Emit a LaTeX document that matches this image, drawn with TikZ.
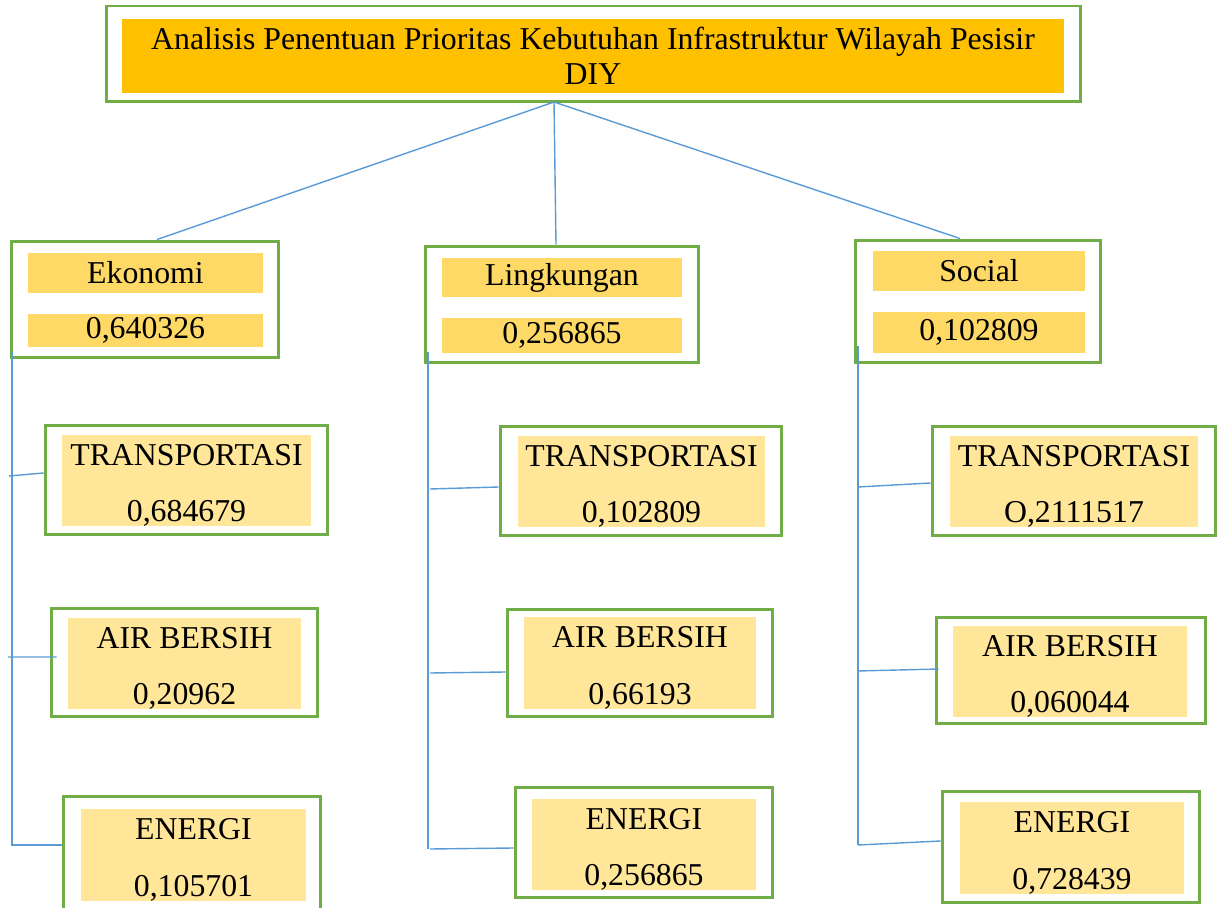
\documentclass[tikz,border=0pt]{standalone}
\usepackage{fontspec}
\setmainfont{Liberation Serif}
\definecolor{boxgreen}{HTML}{70AD47}
\definecolor{headorange}{HTML}{FFC000}
\definecolor{crityellow}{HTML}{FFD966}
\definecolor{subyellow}{HTML}{FFE699}
\definecolor{linkblue}{HTML}{5B9BD5}
% 首行支柱，使两行文字略下移
\newcommand{\topstrut}{\rule{0pt}{17.5pt}}

\begin{document}
\begin{tikzpicture}[x=0.02cm,y=-0.02cm,
  frame/.style={draw=boxgreen, line width=1.7pt, inner sep=0pt},
  headfill/.style={fill=headorange, inner sep=0pt, align=center,
    font=\fontsize{18.1}{19.8}\selectfont},
  critfill/.style={fill=crityellow, inner sep=0pt,
    font=\fontsize{18.1}{20}\selectfont},
  subfill/.style={fill=subyellow, inner sep=0pt, align=center,
    font=\fontsize{18.1}{32}\selectfont},
  link/.style={draw=linkblue, line width=0.8pt}]
  \useasboundingbox (0,0) rectangle (1221,908);

  % 顶层：目标
  \node[frame, minimum width=19.5cm, minimum height=1.92cm] (goal) at (593.5,54) {};
  \node[headfill, minimum width=18.84cm, minimum height=1.5cm] (goalFill) at (593,56)
    {Analisis Penentuan Prioritas Kebutuhan Infrastruktur Wilayah Pesisir\\DIY};

  % 第二层：准则
  \node[frame, minimum width=5.36cm, minimum height=2.34cm] (eko) at (145,299.5) {};
  \node[critfill, minimum width=4.7cm, minimum height=0.8cm] (ekoName) at (145.5,273) {Ekonomi};
  \node[critfill, minimum width=4.7cm, minimum height=0.66cm] (ekoVal) at (145.5,330.5) {0,640326};

  \node[frame, minimum width=5.48cm, minimum height=2.34cm] (ling) at (562,304.5) {};
  \node[critfill, minimum width=4.8cm, minimum height=0.78cm] (lingName) at (562,277.5) {Lingkungan};
  \node[critfill, minimum width=4.8cm, minimum height=0.7cm] (lingVal) at (562,335.5) {0,256865};

  \node[frame, minimum width=4.92cm, minimum height=2.46cm] (soc) at (978,301.5) {};
  \node[critfill, minimum width=4.24cm, minimum height=0.8cm] (socName) at (979,271) {Social};
  \node[critfill, minimum width=4.24cm, minimum height=0.82cm] (socVal) at (979,332.5) {0,102809};

  % 第三层：Ekonomi 下的方案
  \node[frame, minimum width=5.66cm, minimum height=2.2cm] (eT) at (186.5,480) {};
  \node[subfill, minimum width=4.98cm, minimum height=1.78cm] at (186.5,480.5) {\topstrut TRANSPORTASI\\0,684679};
  \node[frame, minimum width=5.34cm, minimum height=2.18cm] (eA) at (184.5,662.5) {};
  \node[subfill, minimum width=4.66cm, minimum height=1.74cm] at (184.5,663.5) {\topstrut AIR BERSIH\\0,20962};
  \node[frame, minimum width=5.16cm, minimum height=2.4cm] (eE) at (192,856) {};
  \node[subfill, minimum width=4.5cm, minimum height=1.84cm] at (193.5,855) {\topstrut ENERGI\\0,105701};

  % 第三层：Lingkungan 下的方案
  \node[frame, minimum width=5.64cm, minimum height=2.2cm] (lT) at (641,481) {};
  \node[subfill, minimum width=4.94cm, minimum height=1.74cm] at (641.5,481.5) {\topstrut TRANSPORTASI\\0,102809};
  \node[frame, minimum width=5.32cm, minimum height=2.16cm] (lA) at (640,663) {};
  \node[subfill, minimum width=4.64cm, minimum height=1.72cm] at (640,663) {\topstrut AIR BERSIH\\0,66193};
  \node[frame, minimum width=5.16cm, minimum height=2.22cm] (lE) at (644,842.5) {};
  \node[subfill, minimum width=4.48cm, minimum height=1.78cm] at (644,844.5) {\topstrut ENERGI\\0,256865};

  % 第三层：Social 下的方案
  \node[frame, minimum width=5.68cm, minimum height=2.2cm] (sT) at (1074,481) {};
  \node[subfill, minimum width=4.96cm, minimum height=1.74cm] at (1074,481.5) {\topstrut TRANSPORTASI\\O,2111517};
  \node[frame, minimum width=5.4cm, minimum height=2.14cm] (sA) at (1071,670.5) {};
  \node[subfill, minimum width=4.68cm, minimum height=1.7cm] at (1070,671.5) {\topstrut AIR BERSIH\\0,060044};
  \node[frame, minimum width=5.16cm, minimum height=2.24cm] (sE) at (1071,847) {};
  \node[subfill, minimum width=4.48cm, minimum height=1.8cm] at (1072,848) {\topstrut ENERGI\\0,728439};

  % 连线：目标到准则
  \coordinate (hub) at (554,102);
  \draw[link] (hub) -- ([xshift=0.24cm]eko.north);
  \draw[link] (hub) -- ([xshift=-0.12cm]ling.north);
  \draw[link] (hub) -- ([xshift=-0.36cm]soc.north);

  % 连线：准则到方案（左侧竖干线）
  \coordinate (ekoTrunk) at (12,352);
  \coordinate (lingTrunk) at (428,352);
  \coordinate (socTrunk) at (858,346);
  \draw[link] (ekoTrunk) |- ([yshift=0.22cm]eE.west);
  \draw[link] (9,476) coordinate (eTa) -- ([yshift=0.14cm]eT.west);
  \draw[link] (8,657) coordinate (eAa) -- ([shift={(0.14cm,0.11cm)}]eA.west);

  \draw[link] (lingTrunk) -- (428,849) coordinate (lingEnd);
  \draw[link] (430,489) coordinate (lTa) -- ([yshift=-0.12cm]lT.west);
  \draw[link] (430,673) coordinate (lAa) -- ([yshift=-0.18cm]lA.west);
  \draw[link] (430,849) coordinate (lEa) -- ([yshift=-0.11cm]lE.west);

  \draw[link] (socTrunk) -- (858,845) coordinate (socEnd);
  \draw[link] (858,487) coordinate (sTa) -- ([yshift=-0.04cm]sT.west);
  \draw[link] (858,671) coordinate (sAa) -- ([shift={(0.08cm,0.03cm)}]sA.west);
  \draw[link] (socEnd) -- ([yshift=0.12cm]sE.west);
\end{tikzpicture}
\end{document}
